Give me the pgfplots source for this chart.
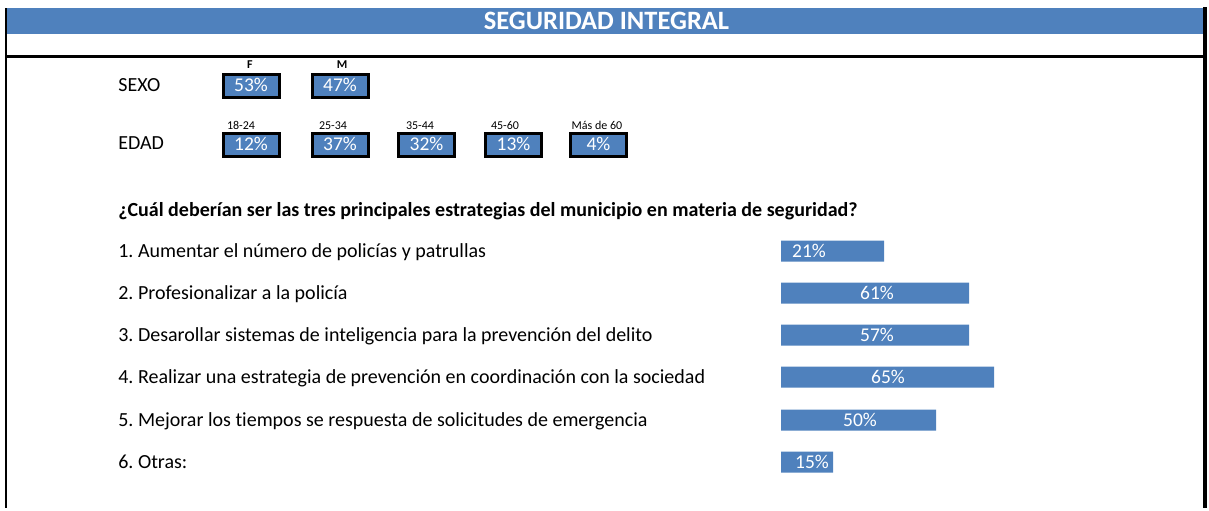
\documentclass[border=0pt]{standalone}
\usepackage{pgfplots}
\pgfplotsset{compat=1.18}
\usepackage{pgfplotstable}
\usepackage{fontspec}
\setmainfont{Carlito}[Ligatures=NoCommon]
\frenchspacing
\definecolor{xlblue}{HTML}{4F81BD}
\newcommand\fmain{\fontsize{12pt}{14pt}\selectfont}
\newcommand\fsmall{\fontsize{7.2pt}{8.5pt}\selectfont}
\newcommand\fnum{\fontsize{11.7pt}{13pt}\selectfont}
\newcommand\ftitle{\fontsize{15.9pt}{18pt}\selectfont\bfseries}

% SEXO group: box centre (x,y), label centre (cx,cy), value
\pgfplotstableread[col sep=comma]{
x,y,cx,cy,val,cat
251,85.5,250,65,53,F
340,85.5,342,65,47,M
}\sexo
% EDAD group
\pgfplotstableread[col sep=comma]{
x,y,cx,cy,val,cat
251,144.5,241,126,12,18-24
340,144.5,333,126,37,25-34
426.5,144.5,420,126,32,35-44
513.5,144.5,505,126,13,45-60
598.5,144.5,597,126,4,Más de 60
}\edad
% Strategies: bar centre y, drawn length (px), value (%), label x
\pgfplotstableread[col sep=comma]{
item,y,len,pct,lx
1,251,103,21,28
2,293,188,61,96
3,335,188,57,96
4,377,213,65,107
5,420,155,50,79
6,462,52,15,31
}\estr

\pgfplotsset{
  frame/.style={width=725.4pt, height=304.8pt, scale only axis, hide axis,
    ymin=0, ymax=508, y dir=reverse, clip=false, at={(0,0)}, anchor=south west,
    /pgf/number format/assume math mode=true},
}
\tikzset{
  boxnode/.style={anchor=center, draw=black, line width=1.8pt, fill=xlblue,
    text=white, font=\fnum, inner sep=0pt, minimum width=33.6pt,
    minimum height=13.8pt, text height=7.5pt, text depth=0pt},
  txt/.style={anchor=west, inner sep=0pt, font=\fmain, text height=7.7pt, text depth=0pt},
}

\begin{document}
\begin{tikzpicture}
\begin{axis}[frame, xmin=0, xmax=1209]
\path (axis cs:0,0) rectangle (axis cs:1209,508);
% header and frame
\fill[xlblue] (axis cs:6,8) rectangle (axis cs:1203,33.5);
\node[text=white, font=\ftitle, inner sep=0pt, text height=10.2pt, text depth=0pt]
  at (axis cs:606.5,20.8) {SEGURIDAD INTEGRAL};
\draw[line width=1.4pt] (axis cs:6.3,8) -- (axis cs:6.3,508);
\draw[line width=2.4pt] (axis cs:1205,7) -- (axis cs:1205,508);
\draw[line width=1.8pt] (axis cs:5,56.5) -- (axis cs:1207,56.5);
% row titles
\node[txt] at (axis cs:118,85.5) {SEXO};
\node[txt] at (axis cs:118,143.5) {EDAD};
\node[txt, font=\fmain\bfseries] at (axis cs:118,210)
  {¿Cuál deberían ser las tres principales estrategias del municipio en materia de seguridad?};
\node[txt] at (axis cs:118,251) {1. Aumentar el número de policías y patrullas};
\node[txt] at (axis cs:118,293) {2. Profesionalizar a la policía};
\node[txt] at (axis cs:118,335) {3. Desarollar sistemas de inteligencia para la prevención del delito};
\node[txt] at (axis cs:118,377) {4. Realizar una estrategia de prevención en coordinación con la sociedad};
\node[txt] at (axis cs:118,420) {5. Mejorar los tiempos se respuesta de solicitudes de emergencia};
\node[txt] at (axis cs:118,462) {6. Otras:};
% value boxes
\addplot[only marks, mark=none, point meta=explicit,
  nodes near coords={\pgfmathprintnumber{\pgfplotspointmeta}\%},
  every node near coord/.style={boxnode}]
  table[x=x, y=y, meta=val] {\sexo};
\addplot[only marks, mark=none, point meta=explicit,
  nodes near coords={\pgfmathprintnumber{\pgfplotspointmeta}\%},
  every node near coord/.style={boxnode}]
  table[x=x, y=y, meta=val] {\edad};
% category labels
\addplot[only marks, mark=none, point meta=explicit symbolic,
  nodes near coords,
  every node near coord/.style={anchor=center, inner sep=0pt, font=\fsmall\bfseries,
    text height=4.6pt, text depth=0pt}]
  table[x=cx, y=cy, meta=cat] {\sexo};
\addplot[only marks, mark=none, point meta=explicit symbolic,
  nodes near coords,
  every node near coord/.style={anchor=center, inner sep=0pt, font=\fsmall,
    text height=4.6pt, text depth=0pt}]
  table[x=cx, y=cy, meta=cat] {\edad};
\end{axis}
% strategy bars: same frame, x origin at the bars' left edge
\begin{axis}[frame, xmin=-781, xmax=428]
\addplot[xbar, bar shift=0pt, bar width=21, fill=xlblue, draw=none]
  table[x=len, y=y] {\estr};
\addplot[only marks, mark=none, point meta=explicit,
  nodes near coords={\pgfmathprintnumber{\pgfplotspointmeta}\%},
  every node near coord/.style={anchor=center, inner sep=0pt, text=white, font=\fnum,
    text height=7.5pt, text depth=0pt}]
  table[x=lx, y=y, meta=pct] {\estr};
\end{axis}
\end{tikzpicture}
\end{document}
